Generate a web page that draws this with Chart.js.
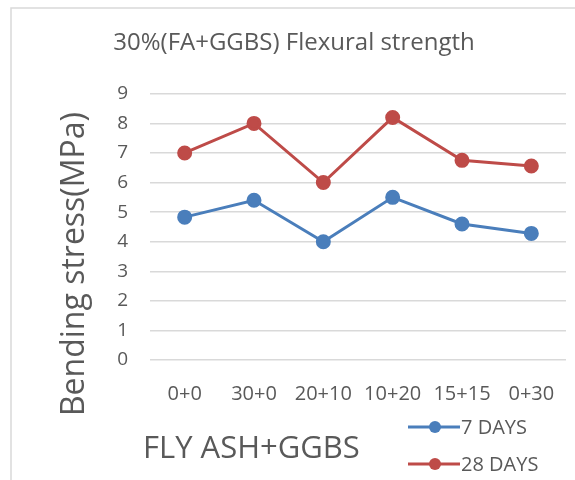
<!DOCTYPE html>
<html>
<head>
<meta charset="utf-8">
<script src="https://cdn.jsdelivr.net/npm/chart.js@4/dist/chart.umd.min.js"></script>
<style>
  html, body { margin: 0; padding: 0; background: #fff; }
  #wrap { width: 575px; height: 480px; }
</style>
</head>
<body>
<div id="wrap"><canvas id="myChart" width="575" height="480"></canvas></div>
<script>
const mixes = ['0+0', '30+0', '20+10', '10+20', '15+15', '0+30'];
const days7 = [4.83, 5.4, 4.0, 5.5, 4.6, 4.28];
const days28 = [7.0, 8.0, 6.0, 8.2, 6.75, 6.56];
const yTicks = [0, 1, 2, 3, 4, 5, 6, 7, 8, 9];

const grey = '#595959';
const fontFam = '"Open Sans", "Liberation Sans", sans-serif';

// frame, axis titles and a vertical legend at bottom right
const extrasPlugin = {
    id: 'extras',
    beforeDraw(chart) {
        const c = chart.ctx;
        c.save();
        c.strokeStyle = '#d9d9d9';
        c.lineWidth = 1.5;
        c.strokeRect(11, 8, chart.width + 20, chart.height + 20);
        c.restore();
    },
    afterDraw(chart) {
        const c = chart.ctx;
        c.save();
        c.fillStyle = grey;
        c.textBaseline = 'middle';
        // x title
        c.font = '31px ' + fontFam;
        c.fillText('FLY ASH+GGBS', 143, 449);
        // y title
        c.translate(75, 264);
        c.rotate(-Math.PI / 2);
        c.font = '32px ' + fontFam;
        c.textAlign = 'center';
        c.fillText('Bending stress(MPa)', 0, 0);
        c.restore();

        c.save();
        c.font = '20px ' + fontFam;
        c.textBaseline = 'middle';
        chart.data.datasets.forEach(function (ds, i) {
            const y = 427 + i * 37;
            c.strokeStyle = ds.borderColor;
            c.lineWidth = 3;
            c.beginPath();
            c.moveTo(408, y);
            c.lineTo(460, y);
            c.stroke();
            c.fillStyle = ds.borderColor;
            c.beginPath();
            c.arc(435, y, 6, 0, Math.PI * 2);
            c.fill();
            c.fillStyle = grey;
            c.fillText(ds.label, 461, y + 1);
        });
        c.restore();
    }
};

const ctx = document.getElementById('myChart').getContext('2d');
const chart = new Chart(ctx, {
    type: 'line',
    data: {
        labels: mixes,
        datasets: [{
            label: '7 DAYS',
            data: days7,
            borderColor: '#4a7ebb',
            backgroundColor: '#4a7ebb',
            borderWidth: 3,
            pointRadius: 6,
            pointHoverRadius: 6
        }, {
            label: '28 DAYS',
            data: days28,
            borderColor: '#be4b48',
            backgroundColor: '#be4b48',
            borderWidth: 3,
            pointRadius: 6,
            pointHoverRadius: 6
        }]
    },
    options: {
        responsive: false,
        animation: false,
        // right padding is small because chart.js adds a few px of its own
        layout: { padding: { left: 14, right: 1, top: 0, bottom: 0 } },
        plugins: {
            legend: { display: false },
            tooltip: { enabled: false },
            title: {
                display: true,
                text: '30%(FA+GGBS) Flexural strength',
                color: grey,
                font: { family: fontFam, size: 24, weight: 'normal' },
                padding: { top: 29, bottom: 36 }
            }
        },
        scales: {
            x: {
                offset: true,
                grid: { display: false, drawTicks: false },
                border: { display: false },
                ticks: {
                    color: grey,
                    font: { family: fontFam, size: 20 },
                    padding: 22,
                    maxRotation: 0,
                    autoSkip: false
                },
                afterFit(scale) {
                    scale.height = 120;
                    scale.paddingLeft = 0;
                    scale.paddingRight = 0;
                }
            },
            y: {
                min: 0,
                max: 9,
                afterBuildTicks(scale) { scale.ticks = yTicks.map(v => ({ value: v })); },
                grid: { color: '#d9d9d9', lineWidth: 1.5, drawTicks: false },
                border: { display: false },
                ticks: {
                    color: grey,
                    font: { family: fontFam, size: 19 },
                    padding: 22
                },
                afterFit(scale) { scale.width = 136; }
            }
        }
    },
    plugins: [extrasPlugin]
});
</script>
</body>
</html>
